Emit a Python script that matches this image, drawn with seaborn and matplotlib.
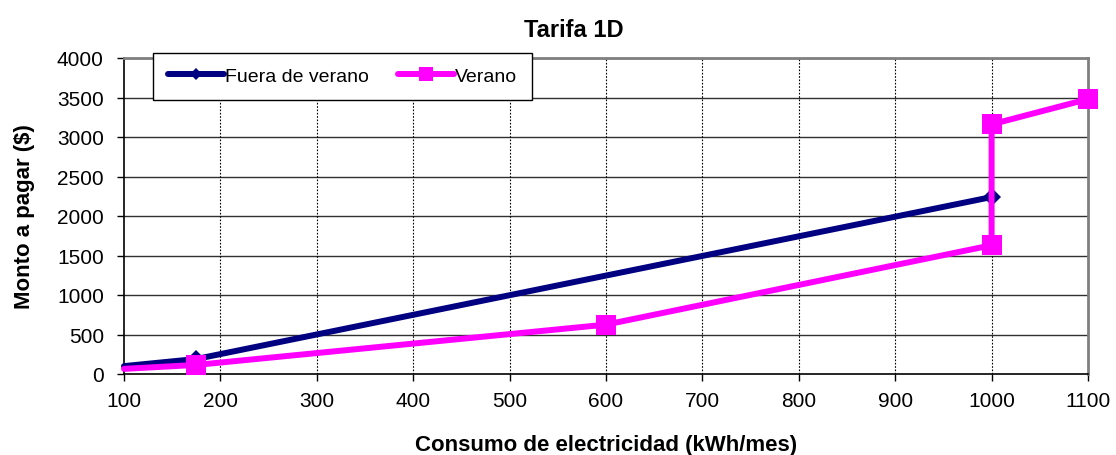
import matplotlib
matplotlib.use("Agg")
import matplotlib.pyplot as plt
import seaborn as sns
import pandas as pd

# Data
fuera_x = [100, 175, 1000]
fuera_y = [100, 190, 2240]
verano_x = [100, 175, 600, 1000, 1000, 1100]
verano_y = [65, 115, 625, 1630, 3160, 3480]
x_ticks = [100, 200, 300, 400, 500, 600, 700, 800, 900, 1000, 1100]
y_ticks = [0, 500, 1000, 1500, 2000, 2500, 3000, 3500, 4000]

sns.set_style("white")
plt.rcParams['font.family'] = ['Liberation Sans', 'DejaVu Sans']
plt.rcParams['text.color'] = 'black'
plt.rcParams['axes.labelcolor'] = 'black'
plt.rcParams['xtick.color'] = 'black'
plt.rcParams['ytick.color'] = 'black'

fig = plt.figure(figsize=(11.16, 4.56), dpi=100)
ax = fig.add_axes([124/1116, 1-375/456, (1088-124)/1116, (375-59)/456])

df_f = pd.DataFrame({"x": fuera_x, "y": fuera_y})
df_v = pd.DataFrame({"x": verano_x, "y": verano_y})

sns.lineplot(data=df_f, x="x", y="y", ax=ax, estimator=None, sort=False,
             color="#000080", linewidth=4.3, marker="D", markersize=9,
             markeredgewidth=0, markevery=[1, 2], label="Fuera de verano",
             clip_on=False, zorder=3)
sns.lineplot(data=df_v, x="x", y="y", ax=ax, estimator=None, sort=False,
             color="#FF00FF", linewidth=4.3, marker="s", markersize=15,
             markeredgewidth=0, markevery=[1, 2, 3, 4, 5], label="Verano",
             clip_on=False, zorder=4)

ax.set_xlim(100, 1100)
ax.set_ylim(0, 4000)
ax.set_xticks(x_ticks)
ax.set_yticks(y_ticks)
ax.tick_params(axis='both', labelsize=15, direction='out', length=5, width=1,
               color='black', left=True, bottom=True)
ax.tick_params(axis='y', pad=9.5)
ax.tick_params(axis='x', pad=7.5)

ax.grid(False)
for yv in y_ticks[1:]:
    ax.axhline(yv, color='#303030', linewidth=1, zorder=1)
for xv in x_ticks[1:-1]:
    ax.axvline(xv, color='black', linewidth=0.8, linestyle=(0, (1.5, 1.5)), zorder=1)

ax.spines['left'].set_color('black')
ax.spines['bottom'].set_color('black')
ax.spines['left'].set_linewidth(1.2)
ax.spines['bottom'].set_linewidth(1.2)
ax.spines['top'].set_color('#808080')
ax.spines['right'].set_color('#808080')
ax.spines['top'].set_linewidth(2)
ax.spines['right'].set_linewidth(2)

ax.set_title("Tarifa 1D", fontsize=17, fontweight='bold', pad=16,
             x=(574-124)/964)
ax.set_xlabel("Consumo de electricidad (kWh/mes)", fontsize=16, fontweight='bold', labelpad=17)
ax.set_ylabel("Monto a pagar ($)", fontsize=16, fontweight='bold', labelpad=16)

leg = ax.legend(loc='upper left', bbox_to_anchor=((153-124)/964, (375-54)/316),
                ncol=2, frameon=True, fancybox=False, fontsize=14, numpoints=1,
                handlelength=2.9, handletextpad=0.05, columnspacing=1.5,
                borderaxespad=0, borderpad=0.75, markerscale=0.7)
leg.get_frame().set_edgecolor('black')
leg.get_frame().set_linewidth(1)
leg.get_frame().set_alpha(1)
for h in leg.legend_handles:
    h.set_markevery([1])
    h.set_solid_capstyle('round')
leg.set_zorder(10)

fig.savefig("out.png", dpi=100)
